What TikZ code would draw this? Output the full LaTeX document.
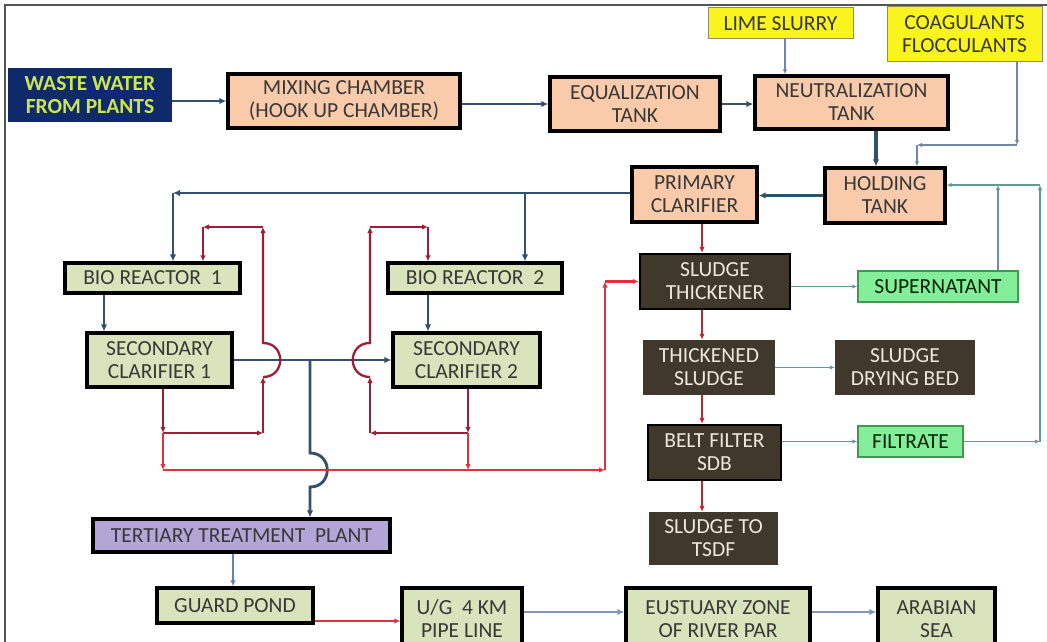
\documentclass[tikz,border=0pt]{standalone}
\usepackage{fontspec}
\setmainfont{Carlito}
\usetikzlibrary{arrows.meta,calc}
\definecolor{peach}{HTML}{F9CBAA}
\definecolor{olivel}{HTML}{D9E3BC}
\definecolor{brownd}{HTML}{40382A}
\definecolor{greenl}{HTML}{84EE9A}
\definecolor{greenb}{HTML}{3F9A4F}
\definecolor{yell}{HTML}{FAF41E}
\definecolor{lavend}{HTML}{B3A6D6}
\definecolor{navy}{HTML}{0E2A6B}
\definecolor{navytxt}{HTML}{CDE650}
\definecolor{txtdark}{HTML}{383838}
\definecolor{txtlight}{HTML}{EEE8DA}
\definecolor{bluec}{HTML}{34506F}
\definecolor{bluegray}{HTML}{6F87A8}
\definecolor{bluelight}{HTML}{5D84B5}
\definecolor{bluepale}{HTML}{8296B8}
\definecolor{darkred}{HTML}{9E1F35}
\definecolor{brightred}{HTML}{E0323C}
\definecolor{redm}{HTML}{C0262F}
\definecolor{tealc}{HTML}{5F9C98}
\definecolor{framec}{HTML}{555555}
\begin{document}
\begin{tikzpicture}[x=1pt,y=-1pt,
  wh/.style 2 args={minimum width=#1pt, minimum height=#2pt},
  basebox/.style={align=center, inner sep=0pt, font=\fontsize{21.5}{23}\selectfont},
  peachbox/.style={basebox, draw=black, line width=3.3pt, fill=peach, text=txtdark},
  olivebox/.style={basebox, draw=black, line width=3.2pt, fill=olivel, text=txtdark},
  brownbox/.style={basebox, fill=brownd, text=txtlight},
  brownframed/.style={brownbox, draw=black, line width=2.4pt},
  greenbox/.style={basebox, draw=greenb, line width=1.4pt, fill=greenl, text=black!85!green},
  yellbox/.style={basebox, draw=gray!70!olive, line width=1pt, fill=yell, text=txtdark},
  bluemain/.style={draw=bluec, line width=2.9pt, -{Latex[length=7pt,width=6.5pt]}},
  bluethin/.style={draw=bluegray, line width=1.3pt, -{Latex[length=5pt,width=4.5pt]}},
  bluelt/.style={draw=bluelight, line width=2.2pt, -{Latex[length=6pt,width=5.5pt]}},
  bluepl/.style={draw=bluepale, line width=2.8pt, -{Latex[length=7pt,width=6.5pt]}},
  redd/.style={draw=darkred, line width=2.3pt, -{Latex[length=6pt,width=5.5pt]}},
  redb/.style={draw=brightred, line width=2.3pt, -{Latex[length=6pt,width=5.5pt]}},
  redmid/.style={draw=redm, line width=2.5pt, -{Latex[length=6pt,width=5.5pt]}},
  tealarrow/.style={draw=tealc, line width=1.5pt, -{Latex[length=5pt,width=4.5pt]}}
]
\useasboundingbox (0,0) rectangle (1047,642);
\clip (0,0) rectangle (1047,642);
\fill[white] (0,0) rectangle (1047,642);
\draw[framec, line width=1.2pt] (5,650) -- (5,5) -- (1050,5);

% nodes
\node[basebox, fill=navy, text=navytxt, font=\fontsize{21.5}{23}\selectfont\bfseries, wh={164}{54}] (waste) at (90,95) {WASTE WATER\\FROM PLANTS};
\node[peachbox, wh={232}{54}] (mix) at (344,101) {MIXING CHAMBER\\(HOOK UP CHAMBER)};
\node[peachbox, wh={170}{54}] (equal) at (635,104) {EQUALIZATION\\TANK};
\node[peachbox, wh={193}{53}] (neut) at (851.5,102.5) {NEUTRALIZATION\\TANK};
\node[yellbox, wh={145}{31}] (lime) at (780.5,23.5) {LIME SLURRY};
\node[yellbox, wh={155}{55}] (coag) at (964.5,34.5) {COAGULANTS\\FLOCCULANTS};
\node[peachbox, wh={120}{55}] (hold) at (885,195.5) {HOLDING\\TANK};
\node[peachbox, wh={125}{55}] (prim) at (694.5,194.5) {PRIMARY\\CLARIFIER};
\node[olivebox, wh={175}{30}] (bio1) at (152.5,278) {BIO REACTOR\ \ 1};
\node[olivebox, wh={174}{30}] (bio2) at (475,278) {BIO REACTOR\ \ 2};
\node[olivebox, wh={145}{54}] (sec1) at (159.5,360) {SECONDARY\\CLARIFIER 1};
\node[olivebox, wh={147}{54}] (sec2) at (466.5,360) {SECONDARY\\CLARIFIER 2};
\node[brownframed, wh={150}{55}] (thick) at (715,281.5) {SLUDGE\\THICKENER};
\node[brownbox, wh={132}{55}] (thickd) at (709,367.5) {THICKENED\\SLUDGE};
\node[brownbox, wh={140}{55}] (dry) at (905,367.5) {SLUDGE\\DRYING BED};
\node[brownframed, wh={133}{55}] (belt) at (714.5,452.5) {BELT FILTER\\SDB};
\node[brownbox, wh={129}{53}] (tsdf) at (713.5,538.5) {SLUDGE TO\\TSDF};
\node[greenbox, wh={160}{31}] (super) at (938,286.5) {SUPERNATANT};
\node[greenbox, wh={105}{31}] (filt) at (910.5,441.5) {FILTRATE};
\node[basebox, draw=black, line width=3.2pt, fill=lavend, text=txtdark, wh={297}{33}] (tert) at (241.5,535.5) {TERTIARY\ TREATMENT\ \ PLANT};
\node[olivebox, wh={156}{35}] (guard) at (235,605.5) {GUARD POND};
\node[olivebox, wh={120}{62}] (ug) at (462,619) {U/G\ \ 4 KM\\PIPE LINE};
\node[olivebox, wh={184}{62}] (eust) at (718,619) {EUSTUARY ZONE\\OF RIVER PAR};
\node[olivebox, wh={117}{62}] (arab) at (936.5,619) {ARABIAN\\SEA};

% coordinates
\coordinate (jL) at (173,193);
\coordinate (jR) at (525,193);
\coordinate (b1x) at (104,0);
\coordinate (b2x) at (428,0);
\coordinate (bd) at (310,360);
\coordinate (r1a) at (163,433);
\coordinate (r1b) at (263,433);
\coordinate (r1h) at (263,377);
\coordinate (r1t) at (263,227);
\coordinate (r1l) at (203,227);
\coordinate (r2a) at (468,433);
\coordinate (r2b) at (370,433);
\coordinate (r2h) at (370,377);
\coordinate (r2t) at (370,227);
\coordinate (r2r) at (428,227);
\coordinate (t1) at (163,470);
\coordinate (t2) at (468,470);
\coordinate (tc) at (605,470);
\coordinate (sx) at (702,0);
\coordinate (gr) at (1040,441.5);
\coordinate (gt) at (1040,185);
\coordinate (sp) at (998,185);
\coordinate (c1) at (1017,145);
\coordinate (c2) at (917,145);
\coordinate (lx) at (785,0);
\coordinate (nh) at (876,0);
\coordinate (tg) at (233,0);
\coordinate (gu) at (0,621);
\coordinate (ue) at (0,612);

% main blue flow
\draw[bluemain, line width=2.2pt] (waste.east |- mix.west) -- (mix.west);
\draw[bluemain] (mix.east |- equal.west) -- (equal.west);
\draw[bluemain] (equal.east) -- (equal.east -| neut.west);
\draw[bluethin] (lx |- lime.south) -- (lx |- neut.north);
\draw[bluethin] (c1 |- coag.south) -- (c1);
\draw[bluethin] (c1) -- (c2);
\draw[bluethin] (c2) -- (c2 |- hold.north);
\draw[bluemain, line width=3.5pt] (nh |- neut.south) -- (nh |- hold.north);
\draw[bluemain] (hold.west) -- (hold.west -| prim.east);
\draw[bluemain] (jL -| prim.west) -- (jL);
\draw[bluemain] (jL) -- (jL |- bio1.north);
\draw[bluemain] (jR) -- (jR |- bio2.north);
\draw[bluemain] (b1x |- bio1.south) -- (b1x |- sec1.north);
\draw[bluemain] (b2x |- bio2.south) -- (b2x |- sec2.north);
\draw[bluemain] (sec1.east) -- (sec2.west);
\draw[bluemain] (bd) -- (310,453) .. controls (333,453) and (333,487) .. (310,487) -- (bd |- tert.north);
\draw[bluelt] (tg |- tert.south) -- (tg |- guard.north);

% red recirculation loops
\draw[redd] (r1a |- sec1.south) -- (r1a);
\draw[redd] (r1a) -- (r1b);
\draw[redd] (r1b) -- (r1h);
\draw[redd] (r1h) .. controls (286,377) and (286,343) .. (263,343) -- (r1t);
\draw[redd] (r1t) -- (r1l);
\draw[redd] (r1l) -- (r1l |- bio1.north);
\draw[redd] (r2a |- sec2.south) -- (r2a);
\draw[redd] (r2a) -- (r2b);
\draw[redd] (r2b) -- (r2h);
\draw[redd] (r2h) .. controls (347,377) and (347,343) .. (370,343) -- (r2t);
\draw[redd] (r2t) -- (r2r);
\draw[redd] (r2r) -- (r2r |- bio2.north);

% red sludge trunk
\draw[redb] (r1a) -- (t1);
\draw[redb] (r2a) -- (t2);
\draw[redb] (t1) -- (tc);
\draw[redb] (tc) -- (tc |- thick.west);
\draw[redb] (tc |- thick.west) -- (thick.west);
\draw[redmid] (sx |- prim.south) -- (sx |- thick.north);
\draw[redmid] (sx |- thick.south) -- (sx |- thickd.north);
\draw[redmid] (sx |- thickd.south) -- (sx |- belt.north);
\draw[redmid] (sx |- belt.south) -- (sx |- tsdf.north);

% teal returns
\draw[tealarrow] (super.west -| thick.east) -- (super.west);
\draw[tealarrow] (thickd.east) -- (dry.west);
\draw[tealarrow] (filt.west -| belt.east) -- (filt.west);
\draw[tealarrow] (filt.east) -- (gr);
\draw[tealarrow] (gr) -- (gt);
\draw[tealarrow] (gt) -- (gt -| hold.east);
\draw[tealarrow] (sp |- super.north) -- (sp);

% outfall
\draw[redb] (gu -| guard.east) -- (gu -| ug.west);
\draw[bluepl] (ue -| ug.east) -- (ue -| eust.west);
\draw[bluepl] (ue -| eust.east) -- (ue -| arab.west);
\end{tikzpicture}
\end{document}
